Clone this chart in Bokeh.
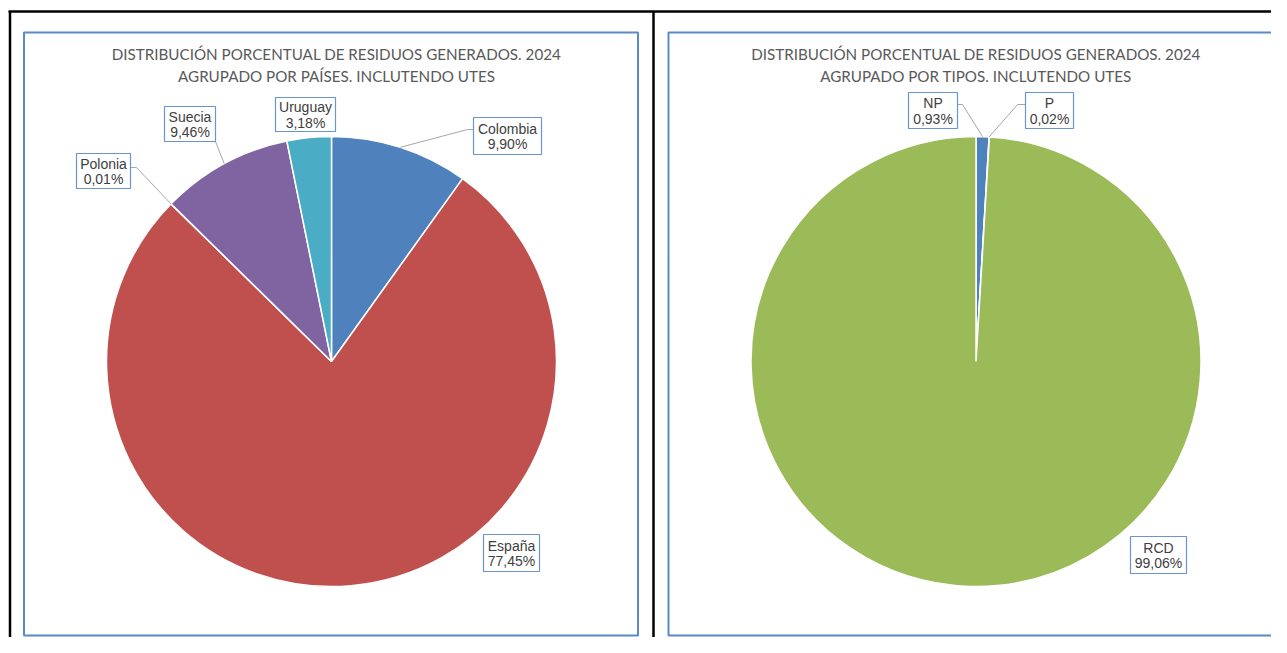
import numpy as np
from bokeh.plotting import figure
from bokeh.models import Range1d, ColumnDataSource
from bokeh.core.properties import value
from bokeh.embed import file_html
from bokeh.resources import INLINE

# ---------------- data ----------------
paises = ["Colombia", "España", "Polonia", "Suecia", "Uruguay"]
pct_paises = [9.90, 77.45, 0.01, 9.46, 3.18]
colores_paises = ["#4F81BD", "#C0504D", "#9BBB59", "#8064A2", "#4BACC6"]

tipos = ["NP", "P", "RCD"]
pct_tipos = [0.93, 0.02, 99.06]
colores_tipos = ["#4F81BD", "#C0504D", "#9BBB59"]

titulo_paises = ["DISTRIBUCIÓN PORCENTUAL DE RESIDUOS GENERADOS. 2024",
                 "AGRUPADO POR PAÍSES. INCLUTENDO UTES"]
titulo_tipos = ["DISTRIBUCIÓN PORCENTUAL DE RESIDUOS GENERADOS. 2024",
                "AGRUPADO POR TIPOS. INCLUTENDO UTES"]

# ---------------- layout (page pixel coordinates) ----------------
W, H = 1271, 637
OX, OY = 0, 0


def X(rx):
    return rx - OX


def Y(ry):
    return H - (ry - OY)


charts = [
    dict(cats=paises, vals=pct_paises, colors=colores_paises, title=titulo_paises,
         frame=(23.5, 637.5, 32, 635), center=(331, 361), radius=225, title_x=336,
         boxes={"Colombia": (473, 541, 117, 154), "España": (483, 539, 534, 571),
                "Polonia": (76, 130, 153, 188), "Suecia": (164, 215, 106, 141),
                "Uruguay": (275, 335, 97, 131)},
         leaders={"Colombia": [(467, 129), (473, 129)],
                  "Polonia": [(136, 167), (130, 167)],
                  "Suecia": [(215, 141)]}),
    dict(cats=tipos, vals=pct_tipos, colors=colores_tipos, title=titulo_tipos,
         frame=(668, 1282, 32, 635), center=(975.5, 361), radius=225, title_x=975.5,
         boxes={"NP": (908, 957, 92, 128), "P": (1025, 1073, 92, 128),
                "RCD": (1130, 1186, 536, 573)},
         leaders={"NP": [(962, 104), (957, 104)],
                  "P": [(1017, 104), (1025, 104)]}),
]

p = figure(width=W, height=H, output_backend="svg", toolbar_location=None,
           x_range=Range1d(0, W), y_range=Range1d(0, H),
           x_axis_type=None, y_axis_type=None, min_border=0)
p.outline_line_color = None
p.xgrid.visible = False
p.ygrid.visible = False
p.background_fill_color = "white"

# outer table lines
p.multi_line(xs=[[X(8), X(1300)], [X(9.5), X(9.5)], [X(653), X(653)]],
             ys=[[Y(11), Y(11)], [Y(11), Y(700)], [Y(11), Y(700)]],
             line_color="black", line_width=2.5)

for ch in charts:
    l, r, t, b = ch["frame"]
    p.quad(left=[X(l)], right=[X(r)], top=[Y(t)], bottom=[Y(b)],
           fill_alpha=0, line_color="#5B8AC6", line_width=2)

    # title
    for i, line in enumerate(ch["title"]):
        p.text(x=[X(ch["title_x"])], y=[Y(53 + 22 * i)], text=[line],
               text_font=value("Lato"), text_font_size="15.2px",
               text_color="#595959", text_align="center", text_baseline="middle")

    vals = np.array(ch["vals"], dtype=float)
    frac = vals / vals.sum()
    c1 = np.cumsum(frac)
    c0 = c1 - frac
    cx, cy = ch["center"]
    rad = ch["radius"]
    src = ColumnDataSource(dict(cat=ch["cats"], color=ch["colors"],
                                start=np.pi / 2 - 2 * np.pi * c0,
                                end=np.pi / 2 - 2 * np.pi * c1))
    p.wedge(x=X(cx), y=Y(cy), radius=rad, start_angle="start", end_angle="end",
            direction="clock", fill_color="color", line_color="white",
            line_width=1.5, source=src)

    # leader lines from slice midpoints
    xs, ys = [], []
    for k, cat in enumerate(ch["cats"]):
        if cat in ch["leaders"]:
            th = 2 * np.pi * (c0[k] + frac[k] / 2)
            ax, ay = cx + rad * np.sin(th), cy - rad * np.cos(th)
            pts = [(ax, ay)] + ch["leaders"][cat]
            xs.append([X(px) for px, _ in pts])
            ys.append([Y(py) for _, py in pts])
    p.multi_line(xs=xs, ys=ys, line_color="#A6A6A6", line_width=1)

    # label boxes
    for k, cat in enumerate(ch["cats"]):
        bl, br, bt, bb = ch["boxes"][cat]
        p.quad(left=[X(bl)], right=[X(br)], top=[Y(bt)], bottom=[Y(bb)],
               fill_color="white", line_color="#6A96CF", line_width=1.2)
        mx = (bl + br) / 2
        my = (bt + bb) / 2
        pct = f"{ch['vals'][k]:.2f}".replace(".", ",") + "%"
        p.text(x=[X(mx), X(mx)], y=[Y(my - 7.5), Y(my + 8)], text=[cat, pct],
               text_font=value("Liberation Sans"), text_font_size="14px",
               text_color="#404040", text_align="center", text_baseline="middle")

open("out.html", "w").write(file_html(p, INLINE))
